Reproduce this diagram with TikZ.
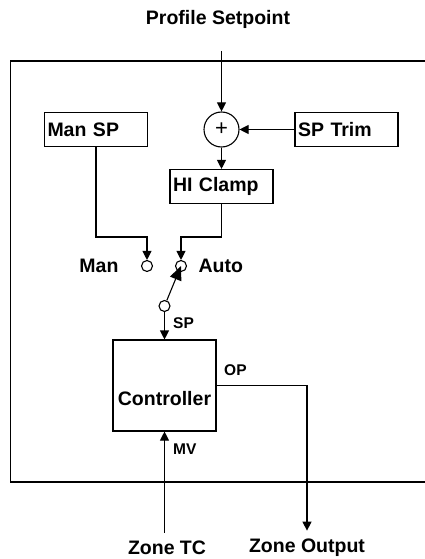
\documentclass[tikz,border=0pt]{standalone}
\usepackage{fontspec}
\setmainfont{Liberation Sans}
\usetikzlibrary{arrows.meta, positioning, calc}

\begin{document}
\begin{tikzpicture}[x=1pt, y=-1pt,
  blk/.style={draw, line width=1.1pt, minimum width=103pt, minimum height=34pt,
              text width=97pt, align=left, inner sep=3pt,
              font=\fontsize{19.5}{22}\selectfont\bfseries},
  lbl/.style={font=\fontsize{19.5}{22}\selectfont\bfseries},
  tag/.style={font=\fontsize{15.5}{18}\selectfont\bfseries, inner sep=1pt},
  contact/.style={draw, circle, line width=1.1pt, minimum size=11pt, inner sep=0pt},
  sig/.style={line width=1.1pt, -{Triangle[length=9pt,width=9pt]}}]

\useasboundingbox (0,0) rectangle (424,559);

% ===== frame =====
\draw[line width=1.2pt] (430,61) -- (10.5,61) -- (10.5,482) -- (430,482);

% ===== setpoint path =====
\node[lbl] (title) at (218,19) {Profile Setpoint};
\coordinate (psin) at (221.5,51);
\node[draw, circle, line width=1.1pt, minimum size=35pt, inner sep=0pt,
      font=\fontsize{22}{22}\selectfont] (sum) at (221.5,129.5) {+};
\node[blk] (mansp) at (96,129.5) {Man SP};
\node[blk] (trim) at (346.5,129.5) {SP Trim};
\node[blk] (clamp) at (221.5,186.5) {HI Clamp};

% ===== switch =====
\node[contact] (man) at (147,266) {};
\node[contact] (auto) at (181,266) {};
\node[contact] (pivot) at (164.5,306) {};
\node[lbl, anchor=east] (manlbl) at (122,266) {Man};
\node[lbl, anchor=west] (autolbl) at (195,266) {Auto};

% ===== controller =====
\node[draw, line width=1.1pt, minimum width=103pt, minimum height=91pt,
      label={[lbl, yshift=-13pt]center:Controller}] (ctl) at (164.5,385.5) {};
\node[tag, anchor=west] (sp) at (172,323) {SP};
\node[tag, anchor=west] (op) at (223,370) {OP};
\node[tag, anchor=west] (mv) at (172,449) {MV};
\node[lbl] (ztc) at (167,548) {Zone TC};
\node[lbl] (zout) at (307,548) {Zone Output};
\coordinate (tcin) at ([yshift=5pt]ztc.north);
\coordinate (outend) at ([yshift=5pt]zout.north);

% ===== connectors =====
\draw[sig] (psin) -- (sum.north);
\draw[sig] (trim.west) -- (sum.east);
\draw[sig] (sum.south) -- (clamp.north);
\draw[sig] (mansp.south) |- ([yshift=23pt]man.north) -- (man.north);
\draw[sig] (clamp.south) |- ([yshift=23pt]auto.north) -- (auto.north);
\draw[line width=1.1pt, -{Triangle[length=14pt,width=12pt]}] (pivot) -- (auto.center);
\draw[sig] (pivot.south) -- (ctl.north);
\draw[sig] (ctl.east) -| (outend);
\draw[sig] (ctl.south |- tcin) -- (ctl.south);

\end{tikzpicture}
\end{document}
